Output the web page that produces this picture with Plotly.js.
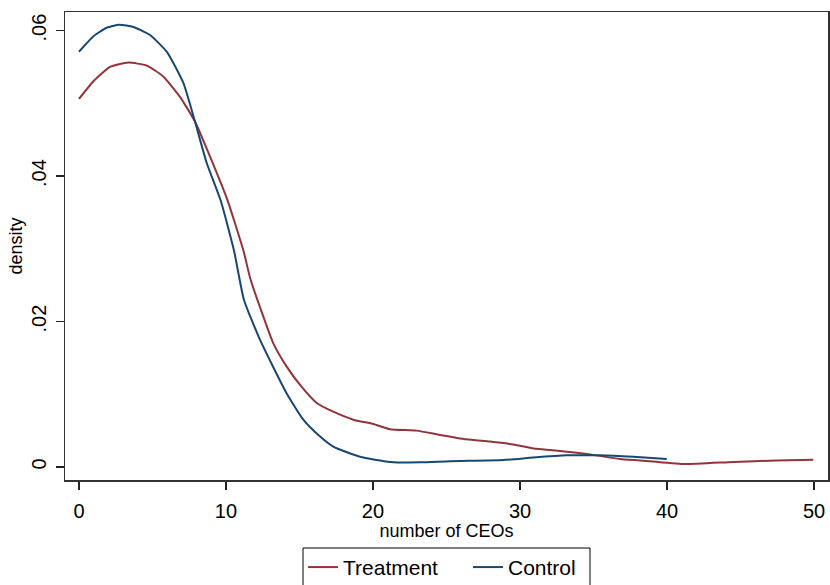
<!DOCTYPE html>
<html>
<head>
<meta charset="utf-8">
<script src="https://cdn.plot.ly/plotly-3.0.1.min.js"></script>
<style>html,body{margin:0;padding:0;background:#fff;}#chart{width:830px;height:585px;}</style>
</head>
<body>
<div id="chart"></div>
<script>
// Treatment density (kernel density estimate)
const treatX = [0, 0.97, 2.11, 3.36, 4.6, 5.73, 6.87, 7.89, 8.91, 10.1, 11.18, 11.68, 12.31, 13.22, 14.13, 15.15, 16.17, 17.30, 18.66, 20.02, 21.16, 22.97, 24.56, 26.37, 27.96, 29.55, 31.13, 32.72, 34.54, 36.8, 38.16, 41.1, 44.5, 47.46, 49.95];
const treatY = [0.0506, 0.0530, 0.0550, 0.0556, 0.0552, 0.0537, 0.0509, 0.0475, 0.0427, 0.0367, 0.0298, 0.0257, 0.0220, 0.0170, 0.0138, 0.0110, 0.0088, 0.0076, 0.0065, 0.0059, 0.0052, 0.0050, 0.0044, 0.0038, 0.0035, 0.0031, 0.0025, 0.0022, 0.0018, 0.0011, 0.0009, 0.0004, 0.0007, 0.0009, 0.0010];
// Control density
const ctrlX = [0, 0.97, 1.88, 2.74, 3.70, 4.83, 5.97, 7.10, 7.89, 8.69, 9.63, 10.54, 11.22, 12.31, 14.13, 15.26, 16.17, 17.30, 19.12, 21.16, 23.2, 25.24, 28.86, 30.9, 33.17, 35.44, 37.7, 39.98];
const ctrlY = [0.0571, 0.0592, 0.0604, 0.0608, 0.0605, 0.0594, 0.0571, 0.0528, 0.0475, 0.0418, 0.0367, 0.0298, 0.0230, 0.0175, 0.0101, 0.0065, 0.0046, 0.0028, 0.0014, 0.0007, 0.00064, 0.0008, 0.00096, 0.0013, 0.0016, 0.0016, 0.0014, 0.0011];

const seriesNames = ["Treatment", "Control"];
const xTickVals = [0, 10, 20, 30, 40, 50];
const xTickText = ["0", "10", "20", "30", "40", "50"];
const yTickVals = [0, 0.02, 0.04, 0.06];
const yTickText = ["0", ".02", ".04", ".06"];

const font = "Arial, 'Liberation Sans', sans-serif";

const traces = [
  {x: treatX, y: treatY, name: seriesNames[0], mode: "lines", type: "scatter",
   legend: "legend",
   line: {color: "#90353b", width: 2, shape: "spline", smoothing: 0.5}},
  {x: ctrlX, y: ctrlY, name: seriesNames[1], mode: "lines", type: "scatter",
   legend: "legend2",
   line: {color: "#1a476f", width: 2, shape: "spline", smoothing: 0.5}}
];

const legendCommon = {
  orientation: "h", xanchor: "left", y: -0.143, yanchor: "top",
  borderwidth: 0, bgcolor: "rgba(0,0,0,0)", font: {size: 21, family: font},
  itemwidth: 30
};

const layout = {
  width: 830, height: 585,
  margin: {l: 65, r: 2, t: 12, b: 105, autoexpand: false},
  paper_bgcolor: "#fff", plot_bgcolor: "#fff",
  font: {family: font, color: "#000"},
  showlegend: true,
  legend: Object.assign({}, legendCommon, {x: (303 - 65) / 763}),
  legend2: Object.assign({}, legendCommon, {x: (468 - 65) / 763}),
  shapes: [{
    type: "rect", xref: "paper", yref: "paper",
    x0: (303 - 65) / 763, x1: (590 - 65) / 763,
    y0: (480 - 548) / 468, y1: (480 - 600) / 468,
    line: {color: "#000", width: 1}, fillcolor: "rgba(0,0,0,0)", layer: "below"
  }],
  xaxis: {
    range: [-0.95, 50.95], tickvals: xTickVals, ticktext: xTickText,
    ticks: "outside", ticklen: 8, tickwidth: 1.5, tickcolor: "#222",
    showline: true, linecolor: "#333", linewidth: 1.5, mirror: true,
    showgrid: false, zeroline: false, ticklabelstandoff: 4,
    tickfont: {size: 20, family: font},
    title: {text: "number of CEOs", font: {size: 18, family: font}, standoff: 1}
  },
  yaxis: {
    range: [-0.00179, 0.06256], tickvals: yTickVals, ticktext: yTickText,
    ticks: "outside", ticklen: 8, tickwidth: 1.5, tickcolor: "#222",
    showline: true, linecolor: "#333", linewidth: 1.5, mirror: true,
    showgrid: false, zeroline: false, tickangle: -90, ticklabelstandoff: 2,
    tickfont: {size: 20, family: font},
    title: {text: "density", font: {size: 18, family: font}, standoff: 0}
  }
};

Plotly.newPlot("chart", traces, layout, {displayModeBar: false, staticPlot: true});
</script>
</body>
</html>
